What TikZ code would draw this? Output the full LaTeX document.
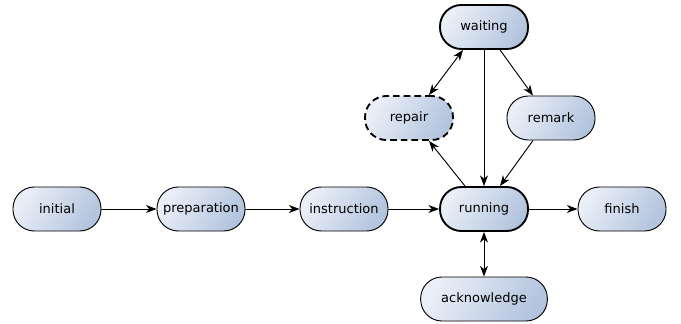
\documentclass[tikz,border=0pt]{standalone}
\usepackage{fontspec}
\setmainfont{DejaVu Sans}
\usetikzlibrary{calc,
	positioning,
	shapes,
	arrows.meta}

\definecolor{statelight}{HTML}{EAEFF7}
\definecolor{statedark}{HTML}{B3C4DE}

\tikzset{
	state/.style={draw, rectangle, rounded corners=16pt, minimum width=66pt, minimum height=33pt,
		shading=axis, left color=statelight, right color=statedark, shading angle=60,
		font=\fontsize{9.75}{12}\selectfont, line width=0.7pt},
	mainstate/.style={state, line width=1.4pt},
	optstate/.style={state, line width=1.4pt, dash pattern=on 5pt off 3pt},
	edge/.style={line width=0.7pt, ->},
	twoway/.style={line width=0.7pt, <->}
}

\begin{document}
\begin{tikzpicture}[x=0.75pt, y=-0.75pt, >={Stealth[length=8pt, width=6pt, inset=2.5pt]}]
	\useasboundingbox (0,0) rectangle (681,324);
	\node (initial) [state] at (57,209) {initial};
	\node (preparation) [state] at (201,209) {preparation};
	\node (instruction) [state] at (344,209) {instruction};
	\node (running) [mainstate] at (484,209) {running};
	\node (finish) [state] at (622,209) {finish};
	\node (acknowledge) [state, minimum width=95pt] at (484,299) {acknowledge};
	\node (waiting) [mainstate] at (484,27) {waiting};
	\node (repair) [optstate] at (409,118) {repair};
	\node (remark) [state] at (551,118) {remark};

	\draw [edge] (initial) -- (preparation);
	\draw [edge] (preparation) -- (instruction);
	\draw [edge] (instruction) -- (running);
	\draw [edge] (running) -- (finish);
	\draw [twoway] (running) -- (acknowledge);
	\draw [edge] (waiting) -- (running);
	\draw [twoway] ($(waiting.south)+(-21,0)$) -- ($(repair.north)+(20,0)$);
	\draw [edge] ($(waiting.south)+(16,0)$) -- ($(remark.north)+(-18,0)$);
	\draw [edge] ($(remark.south)+(-18,0)$) -- ($(running.north)+(16,0)$);
	\draw [edge] ($(running.north)+(-19,0)$) -- ($(repair.south)+(20,0)$);
\end{tikzpicture}
\end{document}
